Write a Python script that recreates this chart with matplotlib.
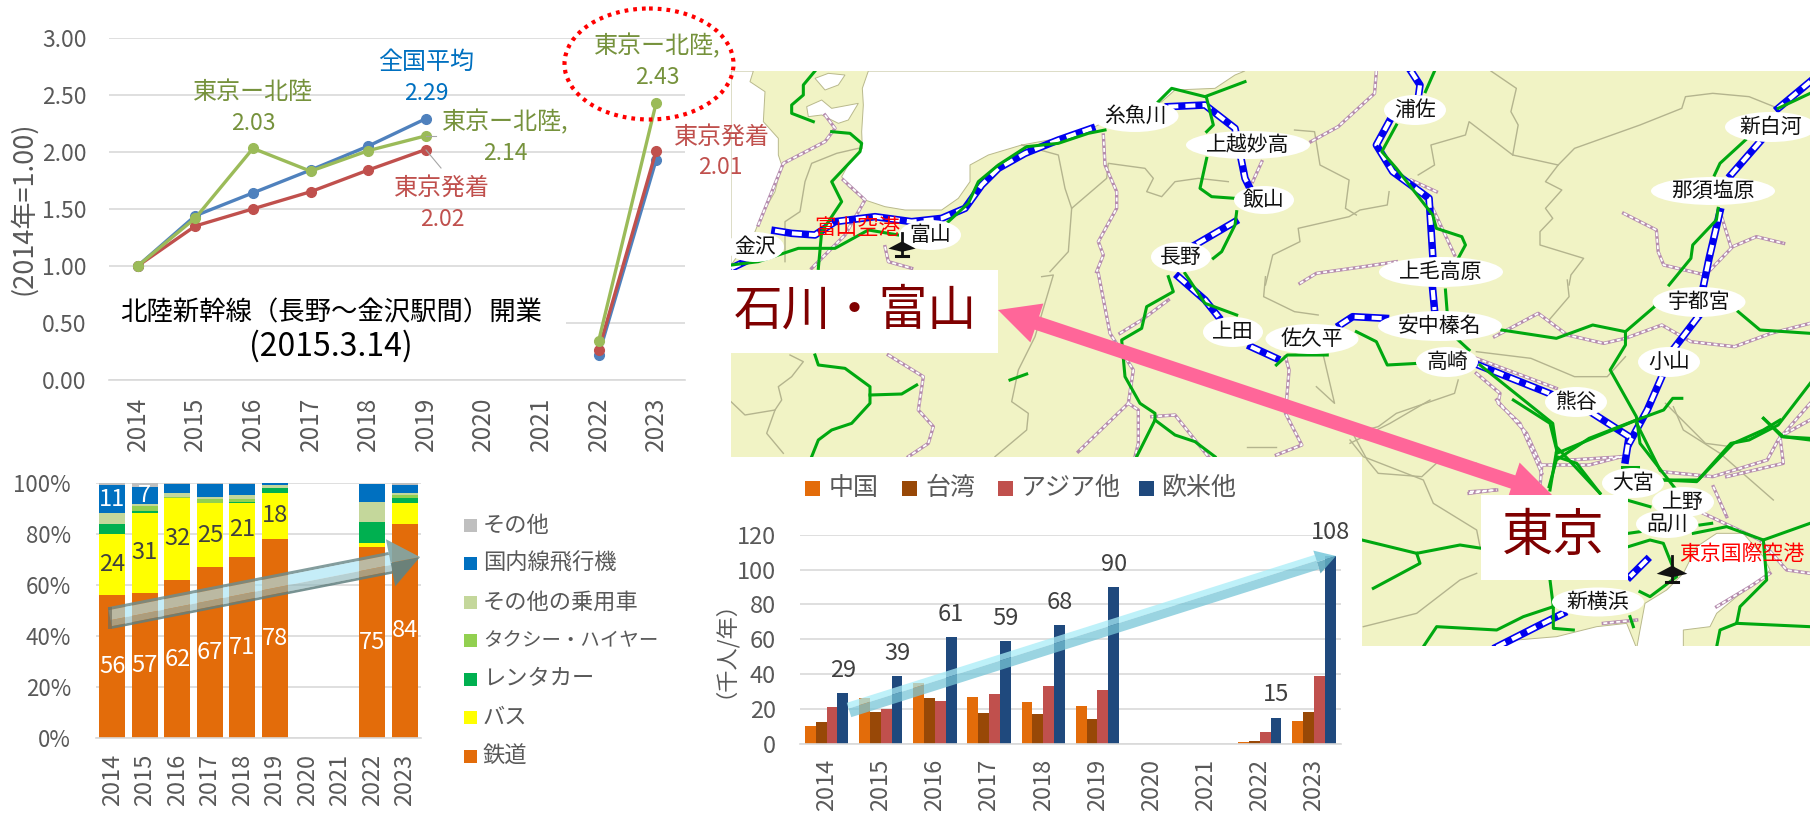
import numpy as np
import matplotlib
matplotlib.use('Agg')
import matplotlib.pyplot as plt
from matplotlib.patches import Rectangle, Ellipse, Polygon

plt.rcParams['font.family'] = ['Noto Sans CJK JP', 'DejaVu Sans']

W, H = 1810, 814
GREY = '#595959'
GRID = '#D9D9D9'

# Chart data
years = ['2014', '2015', '2016', '2017', '2018', '2019', '2020', '2021', '2022', '2023']
nan = float('nan')

# index, 2014 = 1.00
all_japan = [1.00, 1.44, 1.64, 1.84, 2.05, 2.29, nan, nan, 0.22, 1.93]
tokyo_all = [1.00, 1.35, 1.50, 1.65, 1.84, 2.02, nan, nan, 0.26, 2.01]
tokyo_hokuriku = [1.00, 1.42, 2.03, 1.83, 2.01, 2.14, nan, nan, 0.34, 2.43]

# transport share, %
rail = [56, 57, 62, 67, 71, 78, 0, 0, 75, 84]
bus = [24, 31, 32, 25, 21, 18, 0, 0, 1.5, 8]
rental = [4, 1, 0, 0, 0.5, 2, 0, 0, 8, 2]
taxi = [0, 2, 0.5, 1.5, 1, 0, 0, 0, 0, 1]
other_car = [4, 0.5, 1.5, 1, 1.5, 1, 0, 0, 8, 1]
air = [11, 7, 3.5, 5, 4.5, 1, 0, 0, 7, 3]
other = [1, 1.5, 0.5, 0.5, 0.5, 0, 0, 0, 0, 1]
share_names = ['鉄道', 'バス', 'レンタカー', 'タクシー・ハイヤー', 'その他の乗用車', '国内線飛行機', 'その他']
share_colors = ['#E36C0A', '#FFFF00', '#00B050', '#92D050', '#C4D79B', '#0070C0', '#BFBFBF']

# foreign visitors, thousand per year
china = [10, 26, 35, 27, 24, 21.5, 0, 0, 1, 13]
taiwan = [12.5, 18, 26.5, 17.5, 17, 14, 0, 0, 1.5, 18]
asia = [21, 20, 24.5, 28.5, 33, 31, 0, 0, 7, 39]
west = [29, 39, 61, 59, 68, 90, 0, 0, 15, 108]
visitor_names = ['中国', '台湾', 'アジア他', '欧米他']
visitor_colors = ['#E36C0A', '#984807', '#C0504D', '#1F497D']

# Map background, traced by eye from crops of the picture
def frame(x0, y0, sx):
    return lambda pts: [(x0 + x / sx, y0 + y / 3) for x, y in pts]

fa = frame(725, 65, 3)      # upper left
fb = frame(1240, 65, 2.75)  # upper right
fc = frame(1240, 270, 2.75) # middle right
fd = frame(725, 270, 3)     # middle left
fe = frame(1350, 400, 3)    # tokyo

sea = [
    fa([(430, 18), (412, 70), (415, 120), (410, 200), (412, 250), (375, 290), (350, 335), (370, 365), (420, 405),
        (480, 425), (540, 435), (650, 435), (700, 400), (735, 350), (735, 300), (790, 270), (890, 240), (1000, 220),
        (1100, 190), (1140, 170), (1310, 110), (1350, 75), (1470, 70), (1530, 30), (1560, 18)]),
    fa([(85, 18), (75, 50), (120, 80), (115, 170), (160, 220), (160, 270), (170, 300), (150, 380), (110, 450),
        (90, 500), (18, 600), (18, 18)]),
    fa([(245, 125), (290, 105), (320, 130), (400, 115), (370, 165), (340, 175), (290, 150), (250, 155)]),
    fa([(270, 40), (310, 25), (360, 30), (340, 60), (300, 75)]),
    fe([(860, 745), (870, 690), (885, 610), (950, 570), (1000, 520), (1040, 440), (1100, 400), (1180, 400), (1240, 470),
        (1260, 510), (1230, 540), (1160, 590), (1100, 640), (1080, 680), (1000, 690), (1000, 745)]),
    fe([(430, 745), (500, 720), (620, 710), (740, 680), (830, 670), (860, 745)]),
]

borders = [
    fa([(180, 590), (180, 470), (225, 440), (240, 350), (260, 295), (335, 265), (400, 250)]),
    fa([(890, 240), (1000, 270), (1020, 370), (1040, 430), (1030, 560), (975, 620)]),
    fa([(1040, 430), (1145, 340), (1150, 295), (1260, 310), (1285, 340), (1265, 380), (1310, 395), (1350, 350),
        (1420, 340), (1510, 350)]),
    fb([(690, 18), (760, 70), (745, 140), (765, 180), (750, 270), (875, 300), (840, 350), (885, 375), (840, 430),
        (860, 460), (825, 500), (825, 540), (945, 580), (910, 630), (905, 660)]),
    fb([(875, 300), (920, 250), (1100, 180), (1215, 130), (1225, 95), (1300, 85), (1400, 95), (1480, 130)]),
    fb([(750, 270), (690, 220), (630, 170), (620, 210), (525, 240), (535, 300), (490, 330)]),
    fb([(410, 380), (405, 420), (330, 435), (300, 455), (160, 490), (165, 530), (90, 570), (70, 660)]),
    fb([(150, 195), (205, 200), (220, 300), (300, 345), (290, 430), (320, 450)]),
    fc([(70, 20), (65, 80), (150, 125), (215, 135)]),
    fc([(900, 30), (905, 80), (850, 150)]),
    fc([(650, 245), (800, 265), (920, 320), (1010, 320), (1060, 260)]),
    fc([(1170, 400), (1280, 520), (1350, 530)]),
    fc([(600, 330), (590, 370), (430, 430), (380, 470), (310, 490), (350, 570), (380, 610), (500, 620), (550, 570), (650, 580)]),
    fc([(230, 260), (260, 400), (210, 350)]),
    fc([(20, 530), (100, 530)]),
    fd([(18, 395), (60, 435), (150, 420), (125, 490), (175, 550)]),
    fd([(195, 255), (235, 275), (200, 320), (160, 350), (170, 390), (150, 420)]),
    fd([(950, 20), (985, 15), (930, 200), (880, 300), (860, 395), (910, 430), (905, 480), (810, 560)]),
    fe([(0, 120), (40, 170), (220, 240), (250, 310), (380, 390), (390, 440)]),
    fe([(0, 130), (120, 70), (240, 0)]),
    fe([(40, 680), (200, 640), (330, 540), (380, 520)]),
    fe([(970, 20), (1000, 90), (1110, 160), (1270, 300)]),
]

rails = [
    fa([(300, 150), (330, 190), (300, 230), (175, 295), (100, 480)]),
    fa([(355, 345), (420, 405), (360, 510), (260, 610)]),
    fa([(1135, 210), (1140, 300), (1175, 380), (1175, 430), (1120, 530), (1135, 570), (1115, 620)]),
    fa([(480, 545), (490, 590), (560, 610)]),
    fb([(375, 18), (370, 85), (270, 185), (195, 230)]),
    fb([(540, 380), (470, 345), (530, 430), (590, 570)]),
    fb([(1055, 445), (1145, 495), (1150, 560), (1165, 600), (1280, 630), (1355, 545), (1420, 515), (1495, 535)]),
    fb([(1320, 440), (1350, 545)]),
    fb([(165, 655), (210, 625), (340, 605), (430, 590)]),
    fb([(60, 290), (35, 350)]),
    fc([(700, 200), (820, 130), (900, 195), (1000, 220), (1060, 205), (1160, 165), (1240, 215), (1360, 230), (1460, 190), (1568, 160)]),
    fc([(125, 260), (135, 300), (125, 430), (170, 525), (100, 555)]),
    fc([(650, 310), (715, 370), (710, 400), (770, 460), (830, 610)]),
    fc([(830, 585), (960, 585), (1050, 560)]),
    fc([(650, 265), (870, 355)]),
    fc([(1160, 605), (1300, 620), (1450, 570), (1480, 510), (1568, 400)]),
    fc([(630, 670), (700, 660)]),
    fd([(490, 255), (595, 320), (580, 420), (625, 470), (610, 520), (550, 560)]),
    fd([(1120, 10), (1155, 190), (1225, 300), (1210, 400), (1060, 545)]),
    fd([(1210, 400), (1240, 420), (1240, 520), (1230, 560)]),
    fd([(1280, 440), (1350, 435), (1450, 560)]),
    fd([(1185, 190), (1250, 150), (1330, 90)]),
    fe([(440, 0), (530, 100), (575, 200), (570, 260)]),
    fe([(360, 275), (440, 270)]),
    fe([(660, 180), (820, 170)]),
    fe([(1130, 230), (1300, 190), (1290, 110), (1380, 60)]),
    fe([(1090, 260), (1130, 350)]),
    fe([(1060, 340), (1230, 420), (1310, 510), (1380, 520)]),
    fe([(1100, 620), (1200, 560), (1260, 520)]),
    fe([(760, 670), (860, 660)]),
]

shinkansen = [
    fa([(18, 610), (60, 590)]),
    fa([(150, 497), (200, 505), (270, 510), (330, 470), (450, 455), (560, 470), (650, 460), (720, 430), (770, 360),
        (820, 310), (900, 265), (1000, 225), (1100, 190)]),
    fa([(1330, 125), (1440, 120), (1530, 190), (1560, 340), (1590, 400)]),
    fa([(1530, 470), (1410, 540)]),
    fd([(1360, 20), (1440, 90), (1480, 140)]),
    fc([(30, 230), (100, 265)]),
    fc([(275, 165), (310, 140), (400, 145)]),
    fb([(470, 18), (495, 60), (490, 100)]),
    fb([(410, 170), (375, 240), (420, 320), (520, 400), (530, 570)]),
    fc([(530, 60), (535, 120)]),
    fc([(655, 285), (850, 370)]),
    fc([(970, 430), (1070, 500), (1060, 570)]),
    fc([(1160, 320), (1120, 420), (1070, 520)]),
    fc([(1260, 140), (1190, 240)]),
    fb([(1568, 50), (1480, 130)]),
    fb([(1430, 230), (1350, 330)]),
    fb([(1320, 440), (1290, 580), (1275, 660)]),
    fe([(440, 741), (560, 680), (640, 640)]),
    fe([(890, 480), (840, 530)]),
]

jr_lines = [
    fa([(270, 18), (235, 60), (235, 90), (200, 120), (200, 145), (265, 170)]),
    fa([(320, 200), (375, 205), (410, 235), (405, 260), (320, 350), (350, 410), (290, 500), (280, 610)]),
    fa([(20, 600), (100, 590), (220, 550), (330, 550), (430, 495), (520, 510)]),
    fa([(670, 470), (730, 415), (760, 350), (820, 300), (905, 245), (1000, 235), (1090, 205), (1140, 195)]),
    fa([(1300, 110), (1340, 70), (1440, 95), (1560, 50)]),
    fa([(1445, 100), (1465, 180), (1445, 200)]),
    fa([(1445, 280), (1425, 370), (1460, 395), (1530, 400)]),
    fa([(1535, 440), (1530, 480), (1490, 560), (1465, 580)]),
    fb([(535, 18), (510, 80)]),
    fb([(430, 180), (390, 260), (430, 310), (530, 450), (540, 490), (610, 515), (620, 540), (600, 580)]),
    fb([(1480, 130), (1568, 85)]),
    fb([(1390, 225), (1320, 295), (1305, 330)]),
    fb([(1315, 430), (1310, 465), (1245, 540), (1240, 580), (1180, 660)]),
    fc([(565, 60), (570, 130)]),
    fc([(600, 210), (630, 240)]),
    fc([(320, 185), (375, 215), (405, 285), (490, 280)]),
    fc([(720, 180), (870, 205), (970, 165), (1060, 185), (1140, 110), (1145, 90)]),
    fc([(1060, 185), (1060, 225), (1018, 300), (1090, 440), (1100, 520), (1200, 660)]),
    fc([(660, 285), (860, 460), (870, 530), (990, 670)]),
    fc([(850, 650), (870, 570), (960, 505), (1090, 450), (1165, 420), (1190, 385), (1215, 385)]),
    fc([(1165, 630), (1260, 630), (1350, 520), (1400, 510), (1480, 465), (1568, 340)]),
    fc([(1440, 445), (1490, 500), (1568, 505)]),
    fc([(1370, 125), (1430, 180), (1568, 190)]),
    fc([(100, 285), (130, 255), (240, 255)]),
    fc([(1050, 590), (1095, 590)]),
    fd([(270, 255), (280, 285), (360, 295), (435, 350), (435, 400), (380, 460), (320, 480), (280, 510), (260, 560)]),
    fd([(435, 375), (530, 372), (575, 345)]),
    fd([(855, 330), (905, 312)]),
    fd([(1330, 20), (1345, 65), (1265, 110), (1250, 175), (1190, 210), (1200, 320), (1245, 400), (1290, 430), (1290, 450), (1235, 560)]),
    fd([(1290, 450), (1350, 495), (1410, 515), (1470, 560)]),
    fd([(1380, 10), (1440, 100), (1535, 135)]),
    fe([(490, 0), (600, 70), (620, 150), (600, 270)]),
    fe([(860, 60), (620, 160)]),
    fe([(620, 170), (680, 190), (750, 280)]),
    fe([(860, 70), (930, 210)]),
    fe([(940, 240), (1040, 245), (1150, 130), (1240, 90), (1290, 60)]),
    fe([(1240, 55), (1300, 110), (1380, 120)]),
    fe([(36, 420), (200, 460), (330, 435), (395, 445)]),
    fe([(70, 565), (210, 490), (200, 460)]),
    fe([(600, 540), (610, 620), (520, 650), (440, 690), (260, 680), (220, 740)]),
    fe([(610, 620), (610, 685), (670, 690)]),
    fe([(840, 650), (850, 680)]),
    fe([(870, 575), (900, 590), (980, 530), (940, 430), (900, 420), (835, 440)]),
    fe([(835, 400), (870, 395)]),
    fe([(1030, 400), (1130, 380), (1240, 420), (1380, 370)]),
    fe([(1240, 420), (1250, 540), (1170, 620), (1160, 670), (1110, 690), (1100, 740)]),
    fe([(1160, 670), (1380, 680)]),
    fe([(1050, 375), (1085, 370)]),
    fe([(830, 300), (900, 320)]),
]

# name, x, y, ellipse width, ellipse height
stations = [
    ('金沢', 755, 247, 58, 30), ('富山', 930, 235, 62, 30), ('糸魚川', 1135, 116, 87, 32),
    ('上越妙高', 1248, 145, 124, 28), ('飯山', 1264, 200, 60, 28), ('長野', 1181, 257, 60, 30),
    ('浦佐', 1415, 110, 62, 30), ('上毛高原', 1441, 272, 124, 30), ('新白河', 1771, 127, 92, 30),
    ('那須塩原', 1713, 191, 124, 28), ('宇都宮', 1699, 302, 93, 30), ('小山', 1669, 362, 62, 30),
    ('安中榛名', 1440, 326, 124, 30), ('高崎', 1447, 362, 62, 30), ('佐久平', 1312, 339, 93, 30),
    ('上田', 1233, 332, 60, 30), ('熊谷', 1576, 402, 62, 30), ('大宮', 1633, 483, 62, 30),
    ('上野', 1683, 502, 62, 30), ('品川', 1667, 524, 62, 28), ('新横浜', 1598, 602, 92, 29),
]


def px_axes(left, top, right, bottom, **kw):
    return fig.add_axes([left / W, 1 - bottom / H, (right - left) / W, (bottom - top) / H], **kw)


def style_chart(ax, ytick_size, ypad, xpad, xsize):
    ax.set_xlim(-0.5, 9.5)
    ax.set_xticks(range(10))
    ax.set_xticklabels(years, rotation=90, fontsize=xsize, color=GREY)
    ax.tick_params(axis='both', length=0)
    ax.tick_params(axis='x', pad=xpad)
    ax.tick_params(axis='y', pad=ypad, labelsize=ytick_size, labelcolor=GREY)
    for s in ['top', 'left', 'right']:
        ax.spines[s].set_visible(False)
    ax.spines['bottom'].set_color(GRID)
    ax.spines['bottom'].set_linewidth(1.2)
    ax.yaxis.grid(True, color=GRID, lw=1.2)
    ax.set_axisbelow(True)
    ax.patch.set_alpha(0)


# 3D looking arrow of the two bar charts, drawn as strips along the shaft
def glass_arrow(ax, p0, p1, thick, head_len, head_w, strips, head_color):
    p0, p1 = np.array(p0, float), np.array(p1, float)
    d = (p1 - p0) / np.linalg.norm(p1 - p0)
    n = np.array([-d[1], d[0]])
    base = p1 - d * head_len
    for a, b, color, alpha in strips:
        ax.add_patch(Polygon([p0 + n * thick * a, base + n * thick * a, base + n * thick * b, p0 + n * thick * b],
                             closed=True, fc=color, ec='none', alpha=alpha, zorder=6))
    ax.add_patch(Polygon([p1, base + n * head_w / 2, base, ], closed=True, fc=head_color[0], ec='none', alpha=0.9, zorder=6))
    ax.add_patch(Polygon([p1, base, base - n * head_w / 2], closed=True, fc=head_color[1], ec='none', alpha=0.9, zorder=6))


def plane(ax, cx, cy, s):
    ax.add_patch(Polygon([(cx - 1.7 * s, cy + 0.2 * s), (cx, cy - 0.7 * s), (cx + 1.7 * s, cy + 0.2 * s), (cx, cy + 0.6 * s)],
                         closed=True, fc='#111111', ec='none', zorder=4))
    ax.plot([cx, cx], [cy - 1.8 * s, cy + 1.1 * s], color='#111111', lw=2, zorder=4)
    ax.plot([cx - 0.7 * s, cx + 0.7 * s], [cy + 1.1 * s] * 2, color='#111111', lw=2.2, zorder=4)


fig = plt.figure(figsize=(W / 100, H / 100), dpi=100)

# Map layer
bg = fig.add_axes([0, 0, 1, 1], zorder=0)
bg.set_xlim(0, W)
bg.set_ylim(H, 0)
bg.axis('off')

land = Rectangle((731, 71), W - 731, 575, fc='#F1F3C5', ec='none', zorder=1)
bg.add_patch(land)
for poly in sea:
    p = Polygon(poly, closed=True, fc='white', ec='#B9B98C', lw=0.7, zorder=1.1)
    bg.add_patch(p)
    p.set_clip_path(land)


def map_line(pts, zorder, **kw):
    xs, ys = zip(*pts)
    line, = bg.plot(xs, ys, zorder=zorder, **kw)
    line.set_clip_path(land)


for b in borders:
    map_line(b, 1.2, color='#B4B48E', lw=1.0)
for r in rails:
    map_line(r, 1.3, color='#B58CAE', lw=2.4)
    map_line(r, 1.31, color='white', lw=1.3, dashes=(2.2, 1.4))
for s in shinkansen:
    map_line(s, 1.4, color='#0000F0', lw=5.4)
    map_line(s, 1.41, color='white', lw=3.0, dashes=(2.4, 1.7))
for j in jr_lines:
    map_line(j, 1.5, color='#00A810', lw=2.2)

for name, x, y, ew, eh in stations:
    bg.add_patch(Ellipse((x, y), ew, eh, fc='white', ec='none', zorder=2))
    bg.text(x, y, name, fontsize=15, color='#111111', ha='center', va='center', zorder=3)

plane(bg, 902, 247, 8)
plane(bg, 1672, 572, 9)
bg.text(857, 228, '富山空港', fontsize=15.5, color='#FF0000', ha='center', va='center', zorder=3)
bg.text(1742, 554, '東京国際空港', fontsize=15, color='#FF0000', ha='center', va='center', zorder=3)

# pink double arrow between the two regions
a0, a1 = np.array([998.0, 310.0]), np.array([1552.0, 495.0])
ad = (a1 - a0) / np.linalg.norm(a1 - a0)
an = np.array([-ad[1], ad[0]])
hl, hw, sw = 41, 41, 14
bg.add_patch(Polygon([a0, a0 + ad * hl + an * hw / 2, a0 + ad * hl + an * sw / 2, a1 - ad * hl + an * sw / 2,
                      a1 - ad * hl + an * hw / 2, a1, a1 - ad * hl - an * hw / 2, a1 - ad * hl - an * sw / 2,
                      a0 + ad * hl - an * sw / 2, a0 + ad * hl - an * hw / 2],
                     closed=True, fc='#FF6699', ec='none', zorder=3.5))

# white boxes on the map
bg.add_patch(Rectangle((731, 270), 267, 83, fc='white', ec='none', zorder=5))
bg.add_patch(Rectangle((1481, 495), 147, 85, fc='white', ec='none', zorder=5))
bg.add_patch(Rectangle((731, 457), 631, H - 457, fc='white', ec='none', zorder=5))
bg.text(855, 311, '石川・富山', fontsize=35, color='#7F0000', ha='center', va='center', zorder=6)
bg.text(1553, 536, '東京', fontsize=37, color='#7F0000', ha='center', va='center', zorder=6)

# Line chart
ax1 = px_axes(109, 37.7, 685, 380, zorder=5)
style_chart(ax1, 16.5, 16, 12, 17.5)
ax1.set_ylim(0, 3)
ax1.set_yticks([0, 0.5, 1, 1.5, 2, 2.5, 3])
ax1.set_yticklabels([f'{v:.2f}' for v in ax1.get_yticks()])
for series, c in [(all_japan, '#4F81BD'), (tokyo_all, '#C0504D'), (tokyo_hokuriku, '#9BBB59')]:
    ax1.plot(range(10), series, color=c, lw=2.4, marker='o', ms=7, zorder=3, clip_on=False)

# Bar chart, share by transport
ax2 = px_axes(96, 482.7, 421, 738.3, zorder=5)
style_chart(ax2, 16, 18, 11, 17)
ax2.set_ylim(0, 100)
ax2.set_yticks(range(0, 101, 20))
ax2.set_yticklabels([f'{v}%' for v in range(0, 101, 20)])
bottom = np.zeros(10)
for vals, c in zip([rail, bus, rental, taxi, other_car, air, other], share_colors):
    ax2.bar(range(10), vals, 0.8, bottom=bottom, color=c, zorder=2, clip_on=False)
    bottom += np.array(vals)
bus_base = np.array(rail)
air_base = np.array(rail) + np.array(bus) + np.array(rental) + np.array(taxi) + np.array(other_car)
for i in range(10):
    if rail[i]:
        ax2.text(i, rail[i] / 2, str(rail[i]), color='white', fontsize=17, ha='center', va='center', zorder=4)
    if bus[i] > 15:
        ax2.text(i, bus_base[i] + bus[i] / 2, str(bus[i]), color='#404040', fontsize=17, ha='center', va='center', zorder=4)
    if i < 2:
        ax2.text(i, air_base[i] + air[i] / 2, str(air[i]), color='white', fontsize=17, ha='center', va='center', zorder=4)

# Bar chart, foreign visitors
ax3 = px_axes(799.6, 534.7, 1341, 743.7, zorder=5)
style_chart(ax3, 17, 17, 11, 17)
ax3.set_ylim(0, 120)
ax3.set_yticks(range(0, 121, 20))
for k, (vals, c) in enumerate(zip([china, taiwan, asia, west], visitor_colors)):
    ax3.bar(np.arange(10) + (k - 1.5) * 0.2, vals, 0.2, color=c, zorder=2)
for i, v in enumerate(west):
    if v:
        ax3.annotate(str(v), (i + 0.3, v), xytext=(0, 8), textcoords='offset points', ha='center', va='bottom',
                     fontsize=17, color='#404040', annotation_clip=False)

# Overlay in pixel coordinates
fg = fig.add_axes([0, 0, 1, 1], zorder=10)
fg.set_xlim(0, W)
fg.set_ylim(H, 0)
fg.axis('off')

# line chart labels
GREEN_T, RED_T, BLUE_T = '#76923C', '#C0504D', '#0070C0'
label_rows = [
    ('全国平均', f'{all_japan[5]:.2f}', 426, 62, BLUE_T),
    ('東京ー北陸', f'{tokyo_hokuriku[2]:.2f}', 253, 92, GREEN_T),
    ('東京ー北陸,', f'{tokyo_hokuriku[5]:.2f}', 505, 122, GREEN_T),
    ('東京発着', f'{tokyo_all[5]:.2f}', 442, 188, RED_T),
    ('東京ー北陸,', f'{tokyo_hokuriku[9]:.2f}', 657, 46, GREEN_T),
    ('東京発着', f'{tokyo_all[9]:.2f}', 722, 137, RED_T),
]
for name, val, x, y, c in label_rows:
    fg.text(x, y, name, fontsize=17.3, color=c, ha='center', va='center')
    fg.text(x - 2 if x > 700 else x, y + 31, val, fontsize=16.5, color=c, ha='center', va='center')
fg.plot([426, 441], [150, 168], color='#A6A6A6', lw=0.8)
fg.plot([426, 436], [136, 136], color='#A6A6A6', lw=0.8)
fg.add_patch(Ellipse((649, 64), 169, 111, fc='none', ec='#FF0000', lw=3, ls=(0, (0.9, 1.2))))
# break in the 0.50 gridline behind the caption
fg.add_patch(Rectangle((105, 318), 461, 10, fc='white', ec='none', zorder=1))
fg.text(331, 313, '北陸新幹線（長野～金沢駅間）開業', fontsize=19, color='black', ha='center', va='center', zorder=3)
fg.text(331, 346, '(2015.3.14)', fontsize=23, color='black', ha='center', va='center', zorder=3)
fg.text(23, 208, '(2014年=1.00)', fontsize=19.5, color=GREY, rotation=90, ha='center', va='center')
fg.text(713, 638, '（千人/年）', fontsize=16, color=GREY, rotation=90, ha='center', va='center')

# legend, share chart (top to bottom)
for k, (name, c) in enumerate(zip(share_names[::-1], share_colors[::-1])):
    y = 525 + k * 38.5
    fg.add_patch(Rectangle((464, y - 6.5), 13, 13, fc=c, ec='none'))
    fg.text(483, y, name, fontsize=14 if len(name) > 8 else 16, color=GREY, ha='left', va='center')

# legend, visitors chart
for name, c, sx, tx in zip(visitor_names, visitor_colors, [805, 902, 998, 1139], [829, 925, 1021, 1162]):
    fg.add_patch(Rectangle((sx, 481), 15, 15, fc=c, ec='none'))
    fg.text(tx, 488, name, fontsize=18, color=GREY, ha='left', va='center')

# glass arrows
glass_arrow(fg, (110, 618), (420, 557), 22, 30, 48,
            [(-0.5, -0.36, '#6E8C8C', 0.85), (-0.36, 0.1, '#A6E4F5', 0.65), (0.1, 0.38, '#8FB8BC', 0.65), (0.38, 0.5, '#5F7F7F', 0.85)],
            ('#5E8486', '#7FA6A8'))
fg.add_patch(Rectangle((108, 607), 4, 22, fc='#6E6E5E', ec='none', alpha=0.7, zorder=7))
glass_arrow(fg, (849, 710), (1336, 556), 15, 20, 24,
            [(-0.5, -0.1, '#A8EDF7', 0.75), (-0.1, 0.5, '#78C6D8', 0.75)],
            ('#5FA9BE', '#7FCBDD'))

fig.savefig('out.png', dpi=100)
